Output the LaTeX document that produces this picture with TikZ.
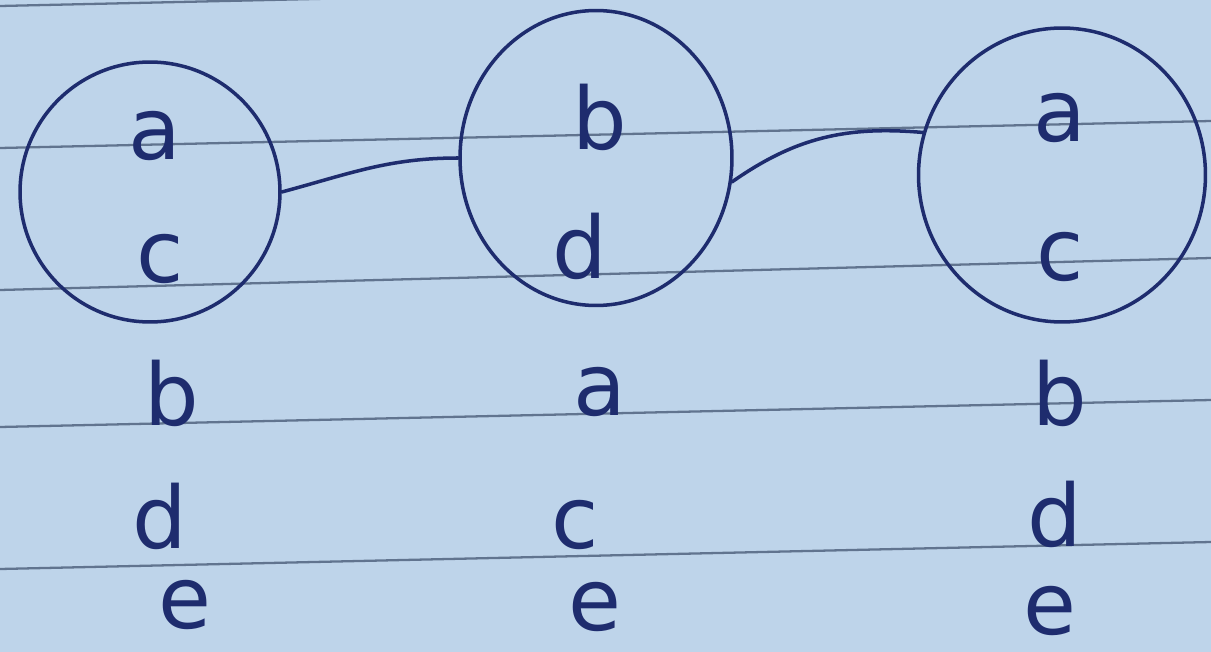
\documentclass[tikz,border=0pt]{standalone}
\usepackage{fontspec}
\setmainfont{DejaVu Sans}
\usepackage{xcolor}
\usepackage{tikz}
\usetikzlibrary{shapes.geometric}
\definecolor{murekkep}{HTML}{1E2C6E}
\definecolor{kagit}{HTML}{BED4EA}
\definecolor{satirrengi}{HTML}{61748F}
\tikzset{
  kume/.style={ellipse, draw=murekkep, line width=2pt, inner sep=0pt},
  harf/.style={anchor=base, text=murekkep, font=\fontsize{49}{49}\selectfont, inner sep=0pt},
  bag/.style={draw=murekkep, line width=2pt, line cap=round},
  cizgi/.style={draw=satirrengi, line width=1.3pt},
}
\begin{document}
\begin{tikzpicture}[x=0.02cm, y=-0.02cm]
  % Kağıt ve satırlar
  \fill[kagit] (0,0) rectangle (1211,652);
  \useasboundingbox (0,0) rectangle (1211,652);
  \begin{scope}
    \clip (0,0) rectangle (1211,652);
    \draw[cizgi] (0,6) -- (1211,-21);
    \draw[cizgi] (0,148) -- (1211,121);
    \draw[cizgi] (0,290) -- (1211,258);
    \draw[cizgi] (0,427) -- (1211,400);
    \draw[cizgi] (0,569) -- (1211,542);
  \end{scope}
  % Kümeler
  \node[kume, minimum width=5.2cm, minimum height=5.2cm] (k1) at (150,192) {};
  \node[kume, minimum width=5.44cm, minimum height=5.9cm] (k2) at (596,158) {};
  \node[kume, minimum width=5.74cm, minimum height=5.88cm] (k3) at (1062,175) {};
  % Küme içi harfler
  \node[harf] (a1) at (155,160) {a};
  \node[harf] (c1) at (160,282) {c};
  \node[harf] (b2) at (600,150) {b};
  \node[harf] (d2) at (580,278) {d};
  \node[harf] (a3) at (1060,142) {a};
  \node[harf] (c3) at (1060,280) {c};
  % Alttaki harfler
  \node[harf] (b1) at (172,425) {b};
  \node[harf] (d1) at (160,548) {d};
  \node[harf] (e1) at (185,628) {e};
  \node[harf] (a2) at (600,415) {a};
  \node[harf] (c2) at (575,548) {c};
  \node[harf] (e2) at (595,630) {e};
  \node[harf] (b3) at (1060,425) {b};
  \node[harf] (d3) at (1055,546) {d};
  \node[harf] (e3) at (1050,634) {e};
  % Bağlar
  \draw[bag] (k1.east) to[out=15,in=180] (k2.west);
  \draw[bag] (k2.-10) to[out=35,in=175] (k3.163);
\end{tikzpicture}
\end{document}
